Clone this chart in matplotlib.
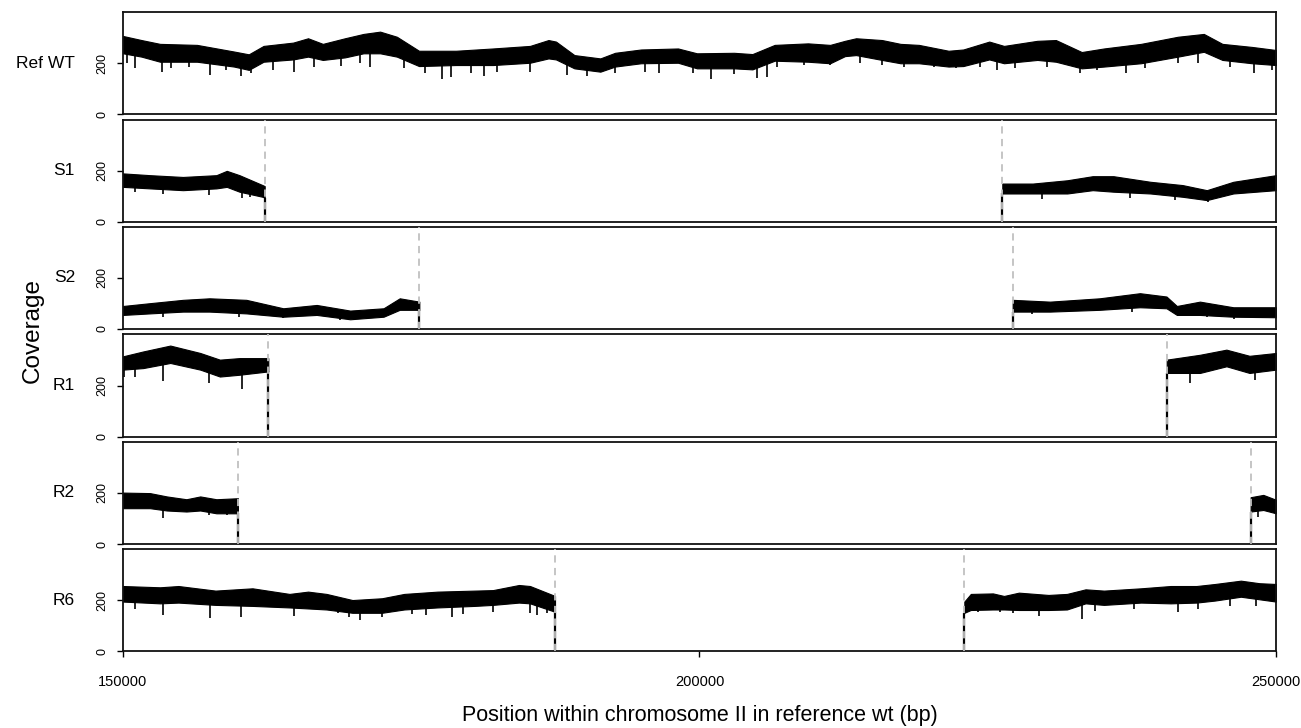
import numpy as np
import matplotlib
matplotlib.use("Agg")
import matplotlib.pyplot as plt
from matplotlib.transforms import blended_transform_factory

plt.rcParams['font.family'] = ['Liberation Sans', 'DejaVu Sans']

# ---------------- data ----------------
sample_names = ["Ref WT", "S1", "S2", "R1", "R2", "R6"]
x_ticks = [150000, 200000, 250000]
y_ticks = [0, 200]

# Ref WT (continuous)
ref_pos = [150000, 151600, 153210, 156420, 159630, 160910, 162190, 164760, 166050, 167330,
           169250, 170860, 172300, 173750, 175670, 178880, 182090, 185300, 186900, 187550,
           189150, 191400, 192680, 194930, 198140, 199780, 202990, 204590, 206520, 209410,
           211330, 212620, 213580, 215830, 217430, 219030, 221600, 222880, 225130, 226410,
           229300, 230910, 233150, 235080, 238290, 241500, 243740, 245350, 247920, 250000]
ref_hi = [306, 290, 275, 271, 245, 234, 267, 280, 297, 275,
          297, 314, 323, 303, 248, 248, 257, 267, 290, 284,
          231, 218, 240, 253, 257, 238, 240, 235, 271, 277,
          271, 287, 297, 290, 275, 271, 248, 253, 284, 267,
          287, 290, 243, 257, 275, 303, 314, 275, 263, 251]
ref_lo = [238, 225, 205, 205, 186, 173, 205, 214, 225, 212,
          222, 238, 238, 225, 188, 192, 192, 201, 218, 214,
          179, 166, 186, 199, 201, 179, 179, 175, 209, 205,
          199, 227, 231, 212, 199, 199, 186, 188, 214, 199,
          212, 205, 179, 186, 199, 225, 244, 212, 199, 192]
ref_spk_pos = [150320, 151060, 153370, 154170, 155710, 157540, 158920, 160270, 161070, 163000,
               164830, 166530, 168930, 170540, 171440, 174390, 176150, 177660, 178460, 180160,
               181290, 182410, 185300, 188510, 190270, 192680, 195250, 196530, 199420, 201000,
               203000, 204980, 205880, 206680, 209090, 211330, 213900, 215820, 217750, 220320,
               222240, 224330, 225770, 227380, 230110, 232990, 234440, 237000, 238610, 241500,
               243260, 245990, 248080, 249680]
ref_spk_min = [201, 182, 166, 179, 186, 153, 173, 149, 162, 173,
               166, 186, 188, 199, 186, 179, 159, 136, 144, 159,
               149, 166, 166, 153, 149, 159, 166, 162, 159, 136,
               156, 140, 146, 186, 192, 192, 199, 192, 186, 186,
               179, 186, 173, 179, 186, 162, 173, 162, 179, 199,
               201, 186, 159, 173]

# S1
s1_breaks = [162290, 226262]
s1_pos_a = [150000, 152340, 155200, 158100, 159000, 160100, 162100, 162290]
s1_hi_a = [190, 183, 176, 183, 200, 183, 144, 140]
s1_lo_a = [137, 131, 124, 131, 137, 118, 98, 95]
s1_pos_b = [226262, 228900, 231900, 234100, 235900, 239100, 241900, 244000, 246300, 250000]
s1_hi_b = [150, 150, 163, 179, 179, 157, 144, 124, 157, 183]
s1_lo_b = [111, 111, 111, 124, 118, 111, 98, 85, 111, 124]
s1_spk_pos = [151000, 153500, 157500, 160300, 161000, 229700, 237300, 241200, 244100]
s1_spk_min = [118, 109, 105, 92, 98, 88, 92, 85, 78]

# S2
s2_breaks = [175700, 227160]
s2_pos_a = [150000, 152340, 155200, 157500, 160700, 163900, 166800, 169700, 172600, 174000, 175700]
s2_hi_a = [90, 101, 114, 120, 114, 81, 94, 72, 81, 120, 107]
s2_lo_a = [55, 61, 68, 68, 61, 48, 55, 38, 48, 75, 75]
s2_pos_b = [227160, 230400, 234700, 238200, 240500, 241400, 243400, 246300, 250000]
s2_hi_b = [114, 107, 120, 140, 127, 90, 107, 85, 85]
s2_lo_b = [68, 68, 75, 85, 81, 55, 55, 48, 46]
s2_spk_pos = [153500, 160100, 163900, 168800, 228800, 237500, 244000, 246400]
s2_spk_min = [48, 48, 42, 35, 59, 68, 48, 38]

# R1
r1_breaks = [162600, 240520]
r1_pos_a = [150000, 151750, 154100, 156700, 158400, 160100, 162600]
r1_hi_a = [314, 333, 356, 327, 301, 307, 307]
r1_lo_a = [262, 268, 288, 262, 235, 242, 255]
r1_pos_b = [240520, 243400, 245700, 247700, 250000]
r1_hi_b = [301, 320, 340, 316, 327]
r1_lo_b = [249, 249, 275, 249, 262]
r1_spk_pos = [150100, 151000, 153500, 157500, 160300, 242500, 248200]
r1_spk_min = [233, 235, 216, 209, 186, 209, 220]

# R2
r2_breaks = [159970, 247800]
r2_pos_a = [150000, 152340, 153800, 155500, 156700, 158100, 159970]
r2_hi_a = [201, 199, 186, 175, 186, 175, 179]
r2_lo_a = [140, 140, 131, 127, 131, 120, 120]
r2_pos_b = [247800, 248900, 250000]
r2_hi_b = [183, 192, 173]
r2_lo_b = [127, 133, 120]
r2_spk_pos = [153500, 157500, 159000, 248400]
r2_spk_min = [101, 114, 112, 107]

# R6
r6_breaks = [187470, 222970]
r6_pos_a = [150000, 153210, 154810, 158020, 161230, 164440, 166050, 167650, 169900, 172460,
            174390, 177280, 180490, 182090, 184340, 185300, 187470]
r6_hi_a = [256, 251, 256, 238, 247, 225, 234, 225, 201, 208,
           225, 234, 238, 240, 260, 256, 217]
r6_lo_a = [195, 188, 191, 182, 178, 172, 168, 164, 151, 151,
           164, 172, 178, 182, 191, 188, 155]
r6_pos_b = [222970, 223530, 225450, 226410, 227700, 230270, 231870, 233480, 235080, 238290,
            240860, 243100, 244710, 246950, 248560, 250000]
r6_hi_b = [195, 225, 227, 217, 230, 221, 225, 243, 238, 247,
           256, 256, 264, 277, 267, 264]
r6_lo_b = [151, 162, 164, 164, 162, 162, 164, 188, 182, 191,
           188, 191, 199, 214, 204, 195]
r6_spk_pos = [151060, 153470, 157540, 160270, 164830, 168610, 169570, 170540, 172460, 175030,
              176310, 178560, 179520, 182090, 185300, 185940, 186740,
              224170, 226090, 227220, 229460, 233150, 234280, 237650, 241500, 243260, 245990,
              248240]
r6_spk_min = [165, 142, 129, 136, 138, 149, 136, 123, 136, 146,
              142, 136, 146, 155, 151, 142, 149,
              155, 155, 151, 138, 125, 159, 164, 155, 164, 177,
              177]

panels = [
    dict(segs=[(ref_pos, ref_hi, ref_lo)], breaks=[], spk=(ref_spk_pos, ref_spk_min)),
    dict(segs=[(s1_pos_a, s1_hi_a, s1_lo_a), (s1_pos_b, s1_hi_b, s1_lo_b)], breaks=s1_breaks,
         spk=(s1_spk_pos, s1_spk_min)),
    dict(segs=[(s2_pos_a, s2_hi_a, s2_lo_a), (s2_pos_b, s2_hi_b, s2_lo_b)], breaks=s2_breaks,
         spk=(s2_spk_pos, s2_spk_min)),
    dict(segs=[(r1_pos_a, r1_hi_a, r1_lo_a), (r1_pos_b, r1_hi_b, r1_lo_b)], breaks=r1_breaks,
         spk=(r1_spk_pos, r1_spk_min)),
    dict(segs=[(r2_pos_a, r2_hi_a, r2_lo_a), (r2_pos_b, r2_hi_b, r2_lo_b)], breaks=r2_breaks,
         spk=(r2_spk_pos, r2_spk_min)),
    dict(segs=[(r6_pos_a, r6_hi_a, r6_lo_a), (r6_pos_b, r6_hi_b, r6_lo_b)], breaks=r6_breaks,
         spk=(r6_spk_pos, r6_spk_min)),
]

# ---------------- layout ----------------
W, H = 1301, 728
fig = plt.figure(figsize=(W / 100, H / 100), dpi=100)
left_px, right_px = 123, 1276
panel_px = [(12, 114), (120, 221.7), (226.7, 329), (334.3, 436.7), (441.7, 544), (549.3, 651.3)]

for i, (name, p) in enumerate(zip(sample_names, panels)):
    top, bot = panel_px[i]
    ax = fig.add_axes([left_px / W, 1 - bot / H, (right_px - left_px) / W, (bot - top) / H])
    ax.set_xlim(150000, 250000)
    ax.set_ylim(0, 400)

    # coverage bands
    for pos, hi, lo in p["segs"]:
        ax.fill_between(pos, lo, hi, color="black", lw=0.8, edgecolor="black", zorder=2)
    # downward spikes
    sp, sm = p["spk"]
    allpos = np.concatenate([np.asarray(s[0], float) for s in p["segs"]])
    alllo = np.concatenate([np.asarray(s[2], float) for s in p["segs"]])
    order = np.argsort(allpos)
    tops = np.interp(sp, allpos[order], alllo[order]) + 10
    ax.vlines(sp, sm, tops, color="black", lw=1.2, zorder=2)
    # drops to zero at the breakpoints, grey dashed markers on top
    if p["breaks"]:
        b0, b1 = p["breaks"]
        ax.vlines([b0], 0, p["segs"][0][2][-1], color="black", lw=1.6, zorder=3)
        ax.vlines([b1], 0, p["segs"][1][2][0], color="black", lw=1.6, zorder=3)
        for b in p["breaks"]:
            ax.axvline(b, color="#c0c0c0", lw=1.3, ls=(0, (4, 3)), zorder=4)

    for s in ax.spines.values():
        s.set_linewidth(1.3)
        s.set_color("#111111")
    ax.set_yticks(y_ticks)
    ax.set_yticklabels([str(v) for v in y_ticks], rotation=90, va="center", fontsize=9)
    ax.tick_params(axis="y", length=4.3, width=1.0, pad=6, direction="out")
    trans = blended_transform_factory(ax.transAxes, ax.transData)
    ax.text((75 - left_px) / (right_px - left_px), 200, name, transform=trans,
            ha="right", va="center", fontsize=12.5)
    if i < len(panels) - 1:
        ax.tick_params(axis="x", bottom=False, labelbottom=False)
    else:
        ax.set_xticks(x_ticks)
        ax.set_xticklabels([str(v) for v in x_ticks], fontsize=10.5)
        ax.tick_params(axis="x", length=4.3, width=1.0, pad=13, direction="out")

fig.text(32.5 / W, 1 - 331 / H, "Coverage", rotation=90, ha="center", va="center", fontsize=17.5)
fig.text(699.5 / W, 1 - 716 / H, "Position within chromosome II in reference wt (bp)",
         ha="center", va="center", fontsize=15.5)

fig.savefig("out.png", dpi=100)
